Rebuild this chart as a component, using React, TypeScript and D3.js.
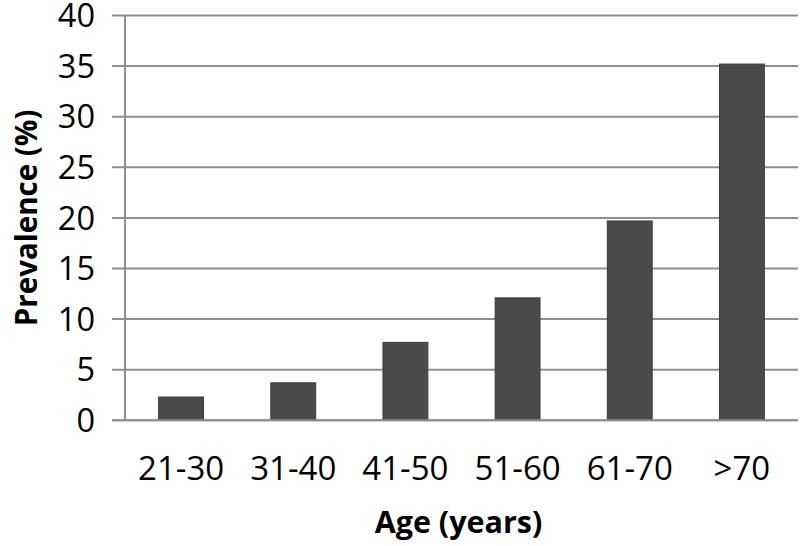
import React from "react";
import * as d3 from "d3";

const categories = ["21-30", "31-40", "41-50", "51-60", "61-70", ">70"];
const prevalence = [2.3, 3.7, 7.7, 12.1, 19.7, 35.2];
const yTicks = [0, 5, 10, 15, 20, 25, 30, 35, 40];

const W = 800;
const H = 546;
const left = 125;
const right = 798;
const top = 15.5;
const bottom = 420.3;

export default function App() {
  const x = d3.scaleBand<string>().domain(categories).range([left, right]).paddingInner(0.6).paddingOuter(0.3);
  const y = d3.scaleLinear().domain([0, 40]).range([bottom, top]);
  const font = "'Open Sans', 'Liberation Sans', sans-serif";
  const grid = "#8e8e8e";
  return (
    <svg width={W} height={H} style={{ position: "absolute", left: 0, top: 0, background: "#fff" }} fontFamily={font}>
      {yTicks.map((t) => (
        <g key={t}>
          <line x1={112} x2={right} y1={y(t)} y2={y(t)} stroke={grid} strokeWidth={2} />
          <text x={95} y={y(t)} dy="0.36em" textAnchor="end" fontSize={32.5} fill="#000">
            {t}
          </text>
        </g>
      ))}
      <line x1={left} x2={left} y1={y(40)} y2={y(0)} stroke={grid} strokeWidth={2} />
      {categories.map((c, i) => (
        <g key={c}>
          <rect
            x={x(c)!}
            y={y(prevalence[i])}
            width={x.bandwidth()}
            height={y(0) - y(prevalence[i])}
            fill="#4a4a4a"
            stroke="#3a3a3a"
            strokeWidth={1}
          />
          <text x={x(c)! + x.bandwidth() / 2} y={480} textAnchor="middle" fontSize={33} fill="#000">
            {c}
          </text>
        </g>
      ))}
      <line x1={112} x2={right} y1={y(0)} y2={y(0)} stroke={grid} strokeWidth={2} />
      <text x={(left + right) / 2 - 3} y={533} textAnchor="middle" fontSize={30.5} fontWeight="bold" fill="#000">
        Age (years)
      </text>
      <text
        transform={`translate(37, ${(top + bottom) / 2}) rotate(-90)`}
        textAnchor="middle"
        fontSize={29.5}
        fontWeight="bold"
        fill="#000"
      >
        Prevalence (%)
      </text>
    </svg>
  );
}
